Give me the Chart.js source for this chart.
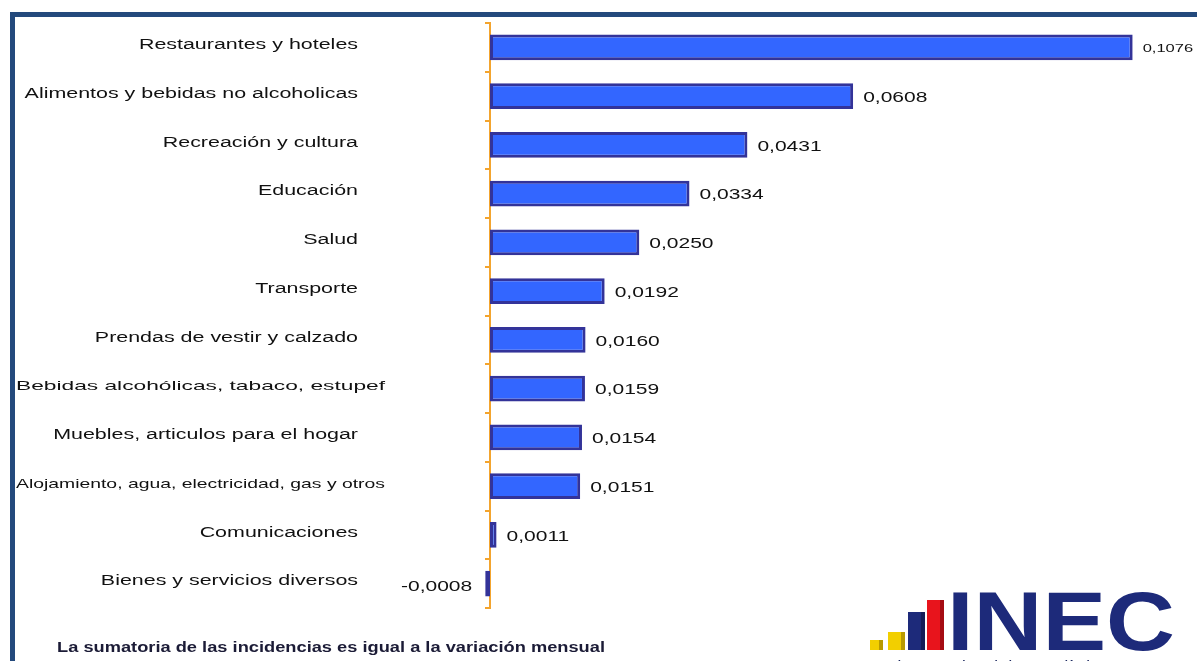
<!DOCTYPE html>
<html lang="es">
<head>
<meta charset="utf-8">
<title>Incidencias por división de consumo</title>
<script src="https://cdn.jsdelivr.net/npm/chart.js@4.4.0/dist/chart.umd.min.js"></script>
<style>
  html, body { margin: 0; padding: 0; background: #fff; }
  #wrap { position: relative; width: 1197px; height: 661px; overflow: hidden; }
</style>
</head>
<body>
<div id="wrap"><canvas id="chart"></canvas></div>
<script>
// Chart data
const categories = [
  'Restaurantes y hoteles',
  'Alimentos y bebidas no alcoholicas',
  'Recreación y cultura',
  'Educación',
  'Salud',
  'Transporte',
  'Prendas de vestir y calzado',
  'Bebidas alcohólicas, tabaco, estupef',
  'Muebles, articulos para el hogar',
  'Alojamiento, agua, electricidad, gas y otros',
  'Comunicaciones',
  'Bienes y servicios diversos'
];
const incidences = [0.1076, 0.0608, 0.0431, 0.0334, 0.0250, 0.0192, 0.0160, 0.0159, 0.0154, 0.0151, 0.0011, -0.0008];
const axisMin = 0;
const axisMax = 0.11;
const footnote = 'La sumatoria de las incidencias es igual a la variación mensual';
const logoText = 'INEC';
const logoSubtitle = 'Instituto nacional de estadística y censos';

const FONT = '"Liberation Sans", Arial, sans-serif';
const STRETCH = 1.53;       // the source picture is stretched horizontally
const FRAME_COLOR = '#23497c';
const AXIS_COLOR = '#f3a42e';

function formatValue(v) {
  return v.toFixed(4).replace('.', ',');
}

/**
 * Draw text squeezed/stretched horizontally
 */
function drawStretched(ctx, text, x, y, align, sx) {
  ctx.save();
  ctx.translate(x, y);
  ctx.scale(sx, 1);
  ctx.textAlign = align;
  ctx.fillText(text, 0, 0);
  ctx.restore();
}

// Blue frame around the slide
const framePlugin = {
  id: 'frame',
  beforeDraw(chart) {
    const ctx = chart.ctx;
    ctx.save();
    ctx.fillStyle = '#fff';
    ctx.fillRect(0, 0, chart.width, chart.height);
    ctx.fillStyle = FRAME_COLOR;
    ctx.fillRect(10, 12, chart.width, 5);
    ctx.fillRect(10, 12, 5, chart.height);
    ctx.restore();
  }
};

// Category names on the left, right aligned
const categoryLabels = {
  id: 'categoryLabels',
  afterDraw(chart) {
    const ctx = chart.ctx;
    const yScale = chart.scales.y;
    const right = 358;
    const minLeft = 16;
    const maxRight = 385;
    ctx.save();
    ctx.fillStyle = '#111';
    ctx.textBaseline = 'middle';
    categories.forEach((label, i) => {
      const y = yScale.getPixelForValue(i) - 2;
      ctx.font = '14px ' + FONT;
      const w = ctx.measureText(label).width * STRETCH;
      if (right - w >= minLeft) {
        drawStretched(ctx, label, right, y, 'right', STRETCH);
      } else {
        // too long: shrink so it fits inside the frame
        ctx.font = '13px ' + FONT;
        const sx = (maxRight - minLeft) / ctx.measureText(label).width;
        drawStretched(ctx, label, minLeft, y, 'left', sx);
      }
    });
    ctx.restore();
  }
};

// Value labels at the end of each bar
const valueLabels = {
  id: 'valueLabels',
  afterDatasetsDraw(chart) {
    const ctx = chart.ctx;
    const meta = chart.getDatasetMeta(0);
    const sx = 1.5;
    ctx.save();
    ctx.fillStyle = '#111';
    ctx.textBaseline = 'middle';
    meta.data.forEach((bar, i) => {
      const v = incidences[i];
      const text = formatValue(v);
      let size = 14;
      ctx.font = size + 'px ' + FONT;
      if (v >= 0) {
        const x = bar.x + 10;
        if (x + ctx.measureText(text).width * sx > chart.width - 4) {
          size = 11;
          ctx.font = size + 'px ' + FONT;
        }
        drawStretched(ctx, text, x, bar.y + 2, 'left', sx);
      } else {
        drawStretched(ctx, text, bar.x - 13, bar.y + 4, 'right', sx);
      }
    });
    ctx.restore();
  }
};

// Footnote and INEC logo
const notesPlugin = {
  id: 'notes',
  afterDraw(chart) {
    const ctx = chart.ctx;
    ctx.save();

    // footnote
    ctx.fillStyle = '#1b1b36';
    ctx.font = 'bold 15px ' + FONT;
    ctx.textBaseline = 'alphabetic';
    const fw = ctx.measureText(footnote).width;
    drawStretched(ctx, footnote, 57, 652, 'left', 548 / fw);

    // logo bars
    const logoBars = [
      { x: 870, top: 640, w: 13, c: '#f2cf00', d: '#b89a00' },
      { x: 888, top: 632, w: 17, c: '#f2cf00', d: '#b89a00' },
      { x: 908, top: 612, w: 17, c: '#1d2a7a', d: '#141d58' },
      { x: 927, top: 600, w: 17, c: '#e8141c', d: '#a50c12' }
    ];
    logoBars.forEach(b => {
      ctx.fillStyle = b.c;
      ctx.fillRect(b.x, b.top, b.w, 650 - b.top);
      ctx.fillStyle = b.d;
      ctx.fillRect(b.x + b.w - 4, b.top, 4, 650 - b.top);
    });

    // logo letters
    ctx.fillStyle = '#1d2a7a';
    ctx.font = 'bold 84px ' + FONT;
    const lw = ctx.measureText(logoText).width;
    drawStretched(ctx, logoText, 947, 650, 'left', 228 / lw);

    ctx.fillStyle = '#1d2a60';
    ctx.font = '14px ' + FONT;
    const sw = ctx.measureText(logoSubtitle).width;
    drawStretched(ctx, logoSubtitle, 870, 671, 'left', 310 / sw);

    ctx.restore();
  }
};

const ctx = document.getElementById('chart').getContext('2d');

new Chart(ctx, {
  type: 'bar',
  data: {
    labels: categories,
    datasets: [{
      data: incidences,
      backgroundColor: '#3366ff',
      borderColor: '#333399',
      borderWidth: 3,
      borderSkipped: false,
      barPercentage: 0.53,
      categoryPercentage: 1,
      clip: false
    }]
  },
  options: {
    indexAxis: 'y',
    responsive: true,
    maintainAspectRatio: false,
    animation: false,
    devicePixelRatio: 1,
    layout: {
      padding: { left: 0, top: 23, right: 50, bottom: 53 }
    },
    plugins: {
      legend: { display: false },
      tooltip: { enabled: false }
    },
    scales: {
      x: {
        display: false,
        min: axisMin,
        max: axisMax
      },
      y: {
        z: 1,
        ticks: { display: false },
        grid: {
          drawOnChartArea: false,
          drawTicks: true,
          tickLength: 5,
          color: AXIS_COLOR,
          lineWidth: 2
        },
        border: {
          display: true,
          color: AXIS_COLOR,
          width: 2,
          dash: [4, 2]
        },
        afterFit: function(scale) {
          scale.width = 490;
        }
      }
    }
  },
  plugins: [framePlugin, categoryLabels, valueLabels, notesPlugin]
});
</script>
</body>
</html>
